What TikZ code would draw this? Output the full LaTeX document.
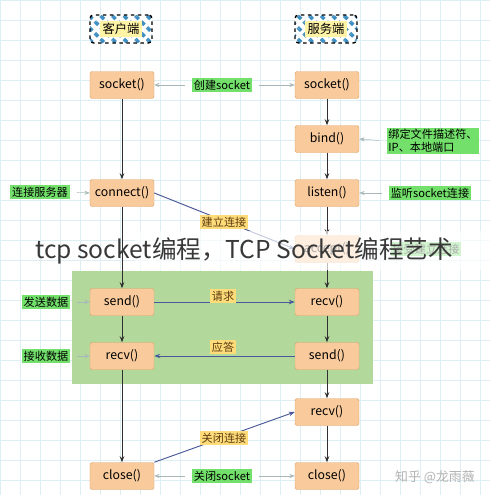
\documentclass[tikz,border=0pt]{standalone}
\usepackage{fontspec}
\setmainfont{Noto Sans CJK SC}
\usetikzlibrary{arrows.meta, positioning, patterns.meta, backgrounds}

\definecolor{peach}{HTML}{F9CB9C}
\definecolor{fnedge}{HTML}{DDA56C}
\definecolor{notegreen}{HTML}{72E06A}
\definecolor{tagyellow}{HTML}{FFDC7A}
\definecolor{tagtext}{HTML}{5A3A10}
\definecolor{stripe}{HTML}{3F8FC2}
\definecolor{hdrfill}{HTML}{FFF3A6}
\definecolor{regiongreen}{HTML}{B3D89B}
\definecolor{msgblue}{HTML}{4A5899}
\definecolor{flowdark}{HTML}{303030}
\definecolor{hintgray}{HTML}{A8B8B8}
\definecolor{gridc}{HTML}{DDEFF3}

\begin{document}
\begin{tikzpicture}[
  x=0.03cm, y=-0.03cm,
  font=\fontsize{9.5pt}{11pt}\selectfont,
  fn/.style={draw=fnedge, fill=peach, rounded corners=2pt, minimum width=1.92cm,
             minimum height=0.81cm, align=center, font=\fontsize{10.5pt}{12pt}\selectfont},
  note/.style={fill=notegreen, inner sep=1.5pt, align=left},
  tag/.style={fill=tagyellow, text=tagtext, inner sep=1.5pt},
  hdr/.style={draw, dashed, very thick, rounded corners=3pt, minimum width=1.86cm,
              minimum height=0.84cm, preaction={fill=white},
              pattern={Lines[angle=-45, distance=7pt, line width=3pt]}, pattern color=stripe},
  flow/.style={-{Stealth[length=1.8mm]}, thick, draw=flowdark},
  msg/.style={-{Stealth[length=1.8mm]}, draw=msgblue, thick},
  hint/.style={-{Stealth[length=1.6mm]}, draw=hintgray, shorten <=6pt}
]
\useasboundingbox (0,0) rectangle (490,495);
\fill[white] (0,0) rectangle (490,495);
\draw[gridc, step=0.6cm] (0,0) grid (490,495);

% data exchange area
\fill[regiongreen] (72,271) rectangle (373,384);

% headers
\node[hdr] (chdr) at (121,29) {};
\node[fill=hdrfill, inner sep=2pt, font=\fontsize{10.5pt}{12pt}\selectfont] (chdrtxt) at (chdr) {客户端};
\node[hdr] (shdr) at (326,29) {};
\node[fill=hdrfill, inner sep=2pt, font=\fontsize{10.5pt}{12pt}\selectfont] (shdrtxt) at (shdr) {服务端};

% client side
\node[fn] (cso)   at (122,85)  {socket()};
\node[fn] (ccon)  at (122,193) {connect()};
\node[fn] (csend) at (122,302) {send()};
\node[fn] (crecv) at (122,356) {recv()};
\node[fn] (ccls)  at (122,476) {close()};

% server side
\node[fn] (sso)    at (327,85)  {socket()};
\node[fn] (sbind)  at (327,139) {bind()};
\node[fn] (slis)   at (327,193) {listen()};
\node[fn] (sacc)   at (327,249) {accept()};
\node[fn] (srecv)  at (327,302) {recv()};
\node[fn] (ssend)  at (327,356) {send()};
\node[fn] (srecv2) at (327,412) {recv()};
\node[fn] (scls)   at (327,476) {close()};

% notes
\node[note] (lsock) at (222,85)  {创建socket};
\node[note] (lbind) at (433,141) {绑定文件描述符、\\IP、本地端口};
\node[note] (lcon)  at (40,192)  {连接服务器};
\node[note] (llis)  at (430,193) {监听socket连接};
\node[note] (lacc)  at (426,249) {接受建立连接};
\node[note] (lsend) at (46,302)  {发送数据};
\node[note] (lrecv) at (46,356)  {接收数据};
\node[note] (lcls)  at (222,476) {关闭socket};

\draw[hint] (lsock.west) -- (cso.east);
\draw[hint] (lsock.east) -- (sso.west);
\draw[hint] (lbind.west) -- (sbind.east);
\draw[hint] (lcon.east)  -- (ccon.west);
\draw[hint] (llis.west)  -- (slis.east);
\draw[hint] (lacc.west)  -- (sacc.east);
\draw[hint] (lsend.east) -- (csend.west);
\draw[hint] (lrecv.east) -- (crecv.west);
\draw[hint] (lcls.west)  -- (ccls.east);
\draw[hint] (lcls.east)  -- (scls.west);

% main flow
\draw[flow] (cso) -- (ccon);
\draw[flow] (csend) -- (crecv);
\draw[flow] (crecv) -- (ccls);
\draw[flow] (sso) -- (sbind);
\draw[flow] (sbind) -- (slis);
\draw[flow] (slis) -- (sacc);
\draw[flow] (sacc) -- (srecv);
\draw[flow] (srecv) -- (ssend);
\draw[flow] (ssend) -- (srecv2);
\draw[flow] (srecv2) -- (scls);

% messages
\draw[msg] (ccon.east) -- (sacc.west);
\node[tag] (lest) at (224,222) {建立连接};
\draw[msg] (csend) -- (srecv);
\node[tag] (lreq) at (223,296) {请求};
\draw[msg] (ssend) -- (crecv);
\node[tag] (lresp) at (223,347) {应答};
\draw[msg] (ccls.north east) -- (srecv2.west);
\node[tag] (lfin) at (224,438) {关闭连接};

% title band over the picture
\fill[white, opacity=0.68] (135,231) rectangle (490,270);
\draw[flow] (ccon) -- (csend);
\node[text=black!78, font=\fontsize{21pt}{25pt}\selectfont] (title) at (244,251)
  {tcp socket编程，TCP Socket编程艺术};
\node[text=black!30, font=\fontsize{11pt}{13pt}\selectfont] (mark) at (435,477) {知乎 @龙雨薇};
\end{tikzpicture}
\end{document}
